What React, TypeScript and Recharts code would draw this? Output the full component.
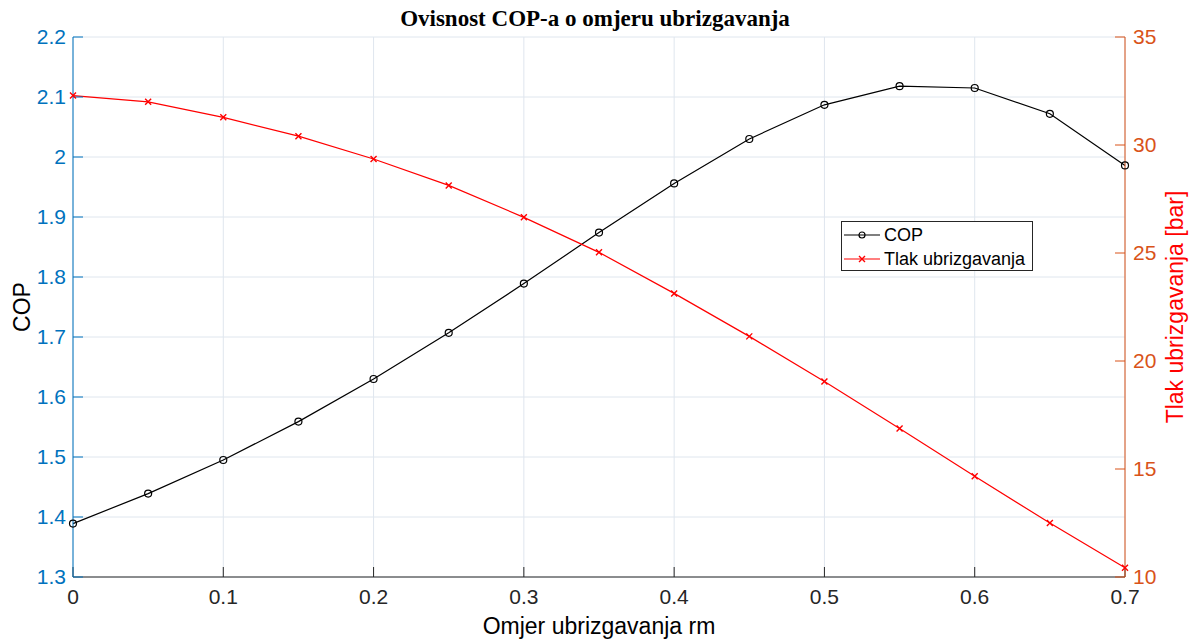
import { LineChart, Line, XAxis, YAxis, CartesianGrid } from 'recharts';

// omjer ubrizgavanja rm
const rm = [0, 0.05, 0.1, 0.15, 0.2, 0.25, 0.3, 0.35, 0.4, 0.45, 0.5, 0.55, 0.6, 0.65, 0.7];
const cop = [1.389, 1.439, 1.495, 1.559, 1.63, 1.707, 1.789, 1.874, 1.956, 2.03, 2.087, 2.118, 2.115, 2.072, 1.986];
const tlak = [32.29, 32.0, 31.28, 30.41, 29.35, 28.13, 26.65, 25.03, 23.13, 21.14, 19.05, 16.88, 14.66, 12.5, 10.43];

const xTicks = [0, 0.1, 0.2, 0.3, 0.4, 0.5, 0.6, 0.7];
const copTicks = [1.3, 1.4, 1.5, 1.6, 1.7, 1.8, 1.9, 2.0, 2.1, 2.2];
const tlakTicks = [10, 15, 20, 25, 30, 35];

const data = rm.map((x, i) => ({ x, cop: cop[i], tlak: tlak[i] }));

const W = 1190;
const H = 639;
const SANS = '"Liberation Sans", Arial, sans-serif';
const BLUE = '#0072BD';
const ORANGE = '#D95319';
const fmt = (v: number) => String(+v.toFixed(2));

function CrossDot(props: any) {
  const { cx, cy, index } = props;
  const s = 3;
  return (
    <path
      key={`x-${index}`}
      d={`M${cx - s},${cy - s}L${cx + s},${cy + s}M${cx - s},${cy + s}L${cx + s},${cy - s}`}
      stroke="#ff0000"
      strokeWidth={1.4}
      fill="none"
    />
  );
}

function LegendBox() {
  const row = (color: string, marker: 'o' | 'x', label: string) => (
    <div style={{ display: 'flex', alignItems: 'center', height: 24 }}>
      <svg width={40} height={16} style={{ marginRight: 1, flex: 'none' }}>
        <line x1={1} y1={8} x2={37} y2={8} stroke={color} strokeWidth={1.2} />
        {marker === 'o' ? (
          <circle cx={19} cy={8} r={3} fill="none" stroke={color} strokeWidth={1.2} />
        ) : (
          <path d="M16,5L22,11M16,11L22,5" stroke={color} strokeWidth={1.4} />
        )}
      </svg>
      <span>{label}</span>
    </div>
  );
  return (
    <div
      style={{
        position: 'absolute',
        left: 841,
        top: 221,
        width: 192,
        height: 50,
        border: '1px solid #262626',
        background: '#fff',
        fontFamily: SANS,
        fontSize: 18,
        color: '#000',
        padding: '1px 0 0 1px',
        boxSizing: 'border-box',
        whiteSpace: 'nowrap',
      }}
    >
      {row('#000000', 'o', 'COP')}
      {row('#ff0000', 'x', 'Tlak ubrizgavanja')}
    </div>
  );
}

export default function App() {
  return (
    <div style={{ position: 'absolute', left: 0, top: 0, width: W, height: H, background: '#fff' }}>
      <LineChart width={W} height={H} data={data} margin={{ top: 37, right: 0, bottom: 0, left: 0 }}>
        <CartesianGrid yAxisId="left" stroke="#dfe6ee" strokeWidth={1} />
        <XAxis
          dataKey="x"
          type="number"
          domain={[0, 0.7]}
          ticks={xTicks}
          tickFormatter={fmt}
          height={62}
          stroke="#262626"
          tickSize={-10}
          tickMargin={22}
          tick={{ fill: '#262626', fontSize: 21, fontFamily: SANS }}
        />
        <XAxis
          xAxisId="top"
          orientation="top"
          dataKey="x"
          type="number"
          domain={[0, 0.7]}
          ticks={xTicks}
          height={0}
          stroke="#262626"
          tickSize={-10}
          tick={false}
        />
        <YAxis
          yAxisId="left"
          type="number"
          domain={[1.3, 2.2]}
          ticks={copTicks}
          tickFormatter={fmt}
          width={73}
          stroke={BLUE}
          tickSize={-10}
          tickMargin={17}
          tick={{ fill: BLUE, fontSize: 21, fontFamily: SANS }}
        />
        <YAxis
          yAxisId="right"
          orientation="right"
          type="number"
          domain={[10, 35]}
          ticks={tlakTicks}
          width={65}
          stroke={ORANGE}
          tickSize={-10}
          tickMargin={18}
          tick={{ fill: ORANGE, fontSize: 21, fontFamily: SANS }}
        />
        <Line
          yAxisId="left"
          dataKey="cop"
          name="COP"
          stroke="#000000"
          strokeWidth={1.2}
          dot={{ r: 3.5, fill: 'none', stroke: '#000000', strokeWidth: 1.2 }}
          isAnimationActive={false}
        />
        <Line
          yAxisId="right"
          dataKey="tlak"
          name="Tlak ubrizgavanja"
          stroke="#ff0000"
          strokeWidth={1.2}
          dot={CrossDot}
          isAnimationActive={false}
        />
      </LineChart>

      <LegendBox />

      <div
        style={{
          position: 'absolute',
          left: 0,
          width: W,
          top: 5,
          textAlign: 'center',
          fontFamily: '"Liberation Serif", "Times New Roman", serif',
          fontWeight: 'bold',
          fontSize: 23,
          lineHeight: '28px',
          color: '#000',
        }}
      >
        Ovisnost COP-a o omjeru ubrizgavanja
      </div>
      <div
        style={{
          position: 'absolute',
          left: 73,
          width: 1052,
          top: 612,
          textAlign: 'center',
          fontFamily: SANS,
          fontSize: 23,
          lineHeight: '28px',
          color: '#000',
        }}
      >
        Omjer ubrizgavanja rm
      </div>
      <div
        style={{
          position: 'absolute',
          left: 22,
          top: 307,
          transform: 'translate(-50%, -50%) rotate(-90deg)',
          fontFamily: SANS,
          fontSize: 23,
          lineHeight: '28px',
          whiteSpace: 'nowrap',
          color: '#000',
        }}
      >
        COP
      </div>
      <div
        style={{
          position: 'absolute',
          left: 1175,
          top: 307,
          transform: 'translate(-50%, -50%) rotate(-90deg)',
          fontFamily: SANS,
          fontSize: 23,
          lineHeight: '28px',
          whiteSpace: 'nowrap',
          color: '#ff0000',
        }}
      >
        Tlak ubrizgavanja [bar]
      </div>
    </div>
  );
}
